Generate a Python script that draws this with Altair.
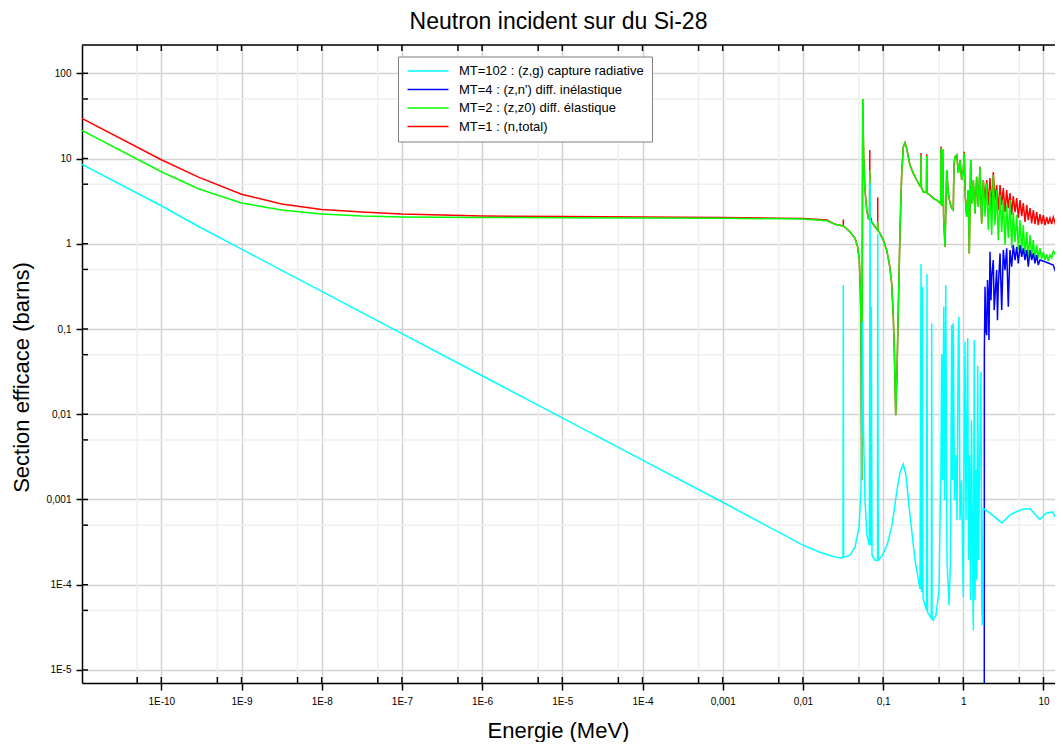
import altair as alt
import pandas as pd

# ---------------- data (log10 of energy in MeV, log10 of cross section in barns) ----------------
names = ["MT=102 : (z,g) capture radiative", "MT=4 : (z,n') diff. inélastique",
         "MT=2 : (z,z0) diff. élastique", "MT=1 : (n,total)"]
colors = ["#00FFFF", "#0000FF", "#00FF00", "#FF0000"]

x_major = [1e-10, 1e-9, 1e-8, 1e-7, 1e-6, 1e-5, 1e-4, 1e-3, 1e-2, 1e-1, 1.0, 10.0]
x_minor = [5e-11, 5e-10, 5e-9, 5e-8, 5e-7, 5e-6, 5e-5, 5e-4, 5e-3, 5e-2, 0.5, 5.0]
y_major = [1e-5, 1e-4, 1e-3, 1e-2, 1e-1, 1.0, 10.0, 100.0]
y_minor = [5e-5, 5e-4, 5e-3, 5e-2, 0.5, 5.0, 50.0]

total_low = [(-10.99, 1.472), (-10.0, 0.986), (-9.53, 0.779), (-9.0, 0.581), (-8.5, 0.466),
             (-8.0, 0.401), (-7.5, 0.372), (-7.0, 0.349), (-6.0, 0.325), (-5.0, 0.319),
             (-4.0, 0.313), (-3.0, 0.308), (-2.0, 0.296), (-1.7, 0.278)]
elastic_low = [(-10.99, 1.331), (-10.0, 0.845), (-9.53, 0.642), (-9.0, 0.478), (-8.5, 0.396),
               (-8.0, 0.349), (-7.5, 0.325), (-7.0, 0.313), (-6.0, 0.308), (-5.0, 0.305),
               (-4.0, 0.302), (-3.0, 0.300), (-2.0, 0.290), (-1.7, 0.270)]
resonances = [(-1.600, 0.228), (-1.496, 0.208), (-1.413, 0.141), (-1.350, 0.063), (-1.317, -0.035),
              (-1.297, -0.191), (-1.284, -0.543), (-1.276, -0.931), (-1.267, -2.774), (-1.254, 1.698),
              (-1.242, 1.021), (-1.226, 0.630), (-1.204, 0.396), (-1.185, 0.298), (-1.170, 0.285),
              (-1.166, 0.865), (-1.162, 0.280), (-1.142, 0.258), (-1.101, 0.200), (-1.070, 0.160),
              (-1.067, 0.258), (-1.064, 0.155), (-1.039, 0.122), (-0.998, 0.043), (-0.955, -0.074),
              (-0.923, -0.230), (-0.893, -0.465), (-0.873, -0.857), (-0.860, -1.248), (-0.843, -2.011),
              (-0.827, -1.518), (-0.810, -0.739), (-0.789, 0.161), (-0.768, 0.826), (-0.748, 1.138),
              (-0.727, 1.185), (-0.706, 1.120), (-0.686, 1.021), (-0.665, 0.924), (-0.623, 0.826),
              (-0.581, 0.748), (-0.540, 0.677), (-0.530, 0.670), (-0.527, 1.041), (-0.522, 0.660),
              (-0.499, 0.610), (-0.460, 0.600), (-0.456, 1.029), (-0.452, 0.595), (-0.415, 0.572),
              (-0.374, 0.533), (-0.332, 0.513), (-0.291, 0.481), (-0.281, 0.475), (-0.278, 1.120),
              (-0.272, 0.454), (-0.262, 0.450), (-0.257, 1.108), (-0.245, 0.300), (-0.228, -0.035),
              (-0.207, 0.865), (-0.187, 0.595), (-0.166, 0.478), (-0.145, 0.415), (-0.125, 0.396),
              (-0.116, 0.944), (-0.103, 1.021), (-0.082, 1.041), (-0.062, 0.830), (-0.041, 0.982),
              (-0.020, 0.748), (0.000, 0.865), (0.012, 1.061), (0.025, 0.552), (0.042, 0.317),
              (0.062, 0.630), (0.075, -0.113), (0.092, 0.982), (0.105, 0.474), (0.125, 0.748),
              (0.146, 0.357), (0.167, 0.786), (0.187, 0.434), (0.208, 0.904), (0.229, 0.239),
              (0.249, 0.748), (0.271, 0.317), (0.292, 0.709), (0.312, 0.161), (0.333, 0.630)]
elastic_high = [(0.354, 0.102), (0.374, 0.806), (0.395, 0.219), (0.416, 0.630), (0.436, 0.043),
                (0.458, 0.572), (0.479, 0.137), (0.499, 0.513), (0.520, -0.015), (0.541, 0.454),
                (0.561, 0.067), (0.582, 0.513), (0.603, -0.050), (0.623, 0.372), (0.645, 0.020),
                (0.666, 0.337), (0.686, -0.074), (0.707, 0.278), (0.728, -0.097), (0.748, 0.219),
                (0.769, -0.133), (0.791, 0.137), (0.810, -0.168), (0.832, 0.102), (0.853, -0.144),
                (0.873, 0.043), (0.894, -0.191), (0.915, -0.015), (0.935, -0.168), (0.956, -0.050),
                (0.977, -0.180), (0.998, -0.097), (1.019, -0.191), (1.040, -0.121), (1.060, -0.203),
                (1.081, -0.133), (1.102, -0.168), (1.122, -0.086), (1.144, -0.121), (1.165, -0.039),
                (1.185, -0.074), (1.206, -0.004), (1.231, 0.020)]
total_high = [(0.271, 0.513), (0.292, 0.748), (0.312, 0.454), (0.333, 0.771), (0.354, 0.393),
              (0.374, 0.841), (0.395, 0.513), (0.416, 0.689), (0.436, 0.393), (0.458, 0.689),
              (0.479, 0.454), (0.499, 0.654), (0.520, 0.372), (0.541, 0.630), (0.561, 0.419),
              (0.582, 0.595), (0.603, 0.337), (0.623, 0.560), (0.645, 0.372), (0.666, 0.536),
              (0.686, 0.302), (0.707, 0.513), (0.728, 0.325), (0.748, 0.478), (0.769, 0.255),
              (0.791, 0.454), (0.810, 0.278), (0.832, 0.419), (0.853, 0.243), (0.873, 0.396),
              (0.894, 0.231), (0.915, 0.372), (0.935, 0.219), (0.956, 0.349), (0.977, 0.231),
              (0.998, 0.337), (1.019, 0.219), (1.040, 0.313), (1.060, 0.231), (1.081, 0.302),
              (1.102, 0.231), (1.122, 0.313), (1.144, 0.243), (1.165, 0.302), (1.185, 0.243),
              (1.206, 0.313), (1.231, 0.266)]
# red tips of the total above the elastic peaks: (logE, low, high)
total_tips = [(-1.496, 0.208, 0.286), (-1.166, 0.865, 1.100), (-1.148, 0.258, 0.305),
              (-1.067, 0.258, 0.545), (-0.527, 1.041, 1.065), (-0.456, 1.029, 1.050),
              (-0.278, 1.120, 1.140), (0.012, 1.061, 1.080)]
inelastic = [(0.2615, -6.0), (0.2625, -1.283), (0.271, -0.505), (0.281, -1.013), (0.292, -1.072),
             (0.302, -0.426), (0.312, -0.622), (0.320, -1.130), (0.333, -0.094), (0.345, -0.661),
             (0.354, -0.387), (0.374, -0.191), (0.385, -0.778), (0.395, -0.622), (0.416, -0.309),
             (0.426, -0.896), (0.436, -0.505), (0.458, -0.113), (0.479, -0.778), (0.499, -0.074),
             (0.520, -0.309), (0.541, -0.054), (0.561, -0.739), (0.582, -0.074), (0.603, -0.270),
             (0.623, -0.015), (0.645, -0.191), (0.666, -0.035), (0.686, -0.230), (0.707, -0.015),
             (0.728, -0.153), (0.748, -0.054), (0.769, -0.191), (0.791, -0.074), (0.810, -0.270),
             (0.832, -0.074), (0.853, -0.191), (0.873, -0.113), (0.894, -0.230), (0.915, -0.133),
             (0.935, -0.250), (0.956, -0.191), (1.019, -0.211), (1.122, -0.250), (1.185, -0.426),
             (1.231, -0.614)]
capture = [(-10.99, 0.932), (-10.0, 0.446), (-9.53, 0.200), (-9.0, -0.063), (-8.0, -0.559),
           (-7.0, -1.054), (-6.0, -1.548), (-5.0, -2.043), (-4.0, -2.539), (-3.0, -3.032),
           (-2.0, -3.536), (-1.788, -3.619), (-1.600, -3.674), (-1.516, -3.685), (-1.500, -3.680),
           (-1.496, -0.485), (-1.492, -3.680), (-1.413, -3.654), (-1.350, -3.556), (-1.300, -3.322),
           (-1.276, -2.891), (-1.259, -1.835), (-1.254, -0.915), (-1.247, -2.069), (-1.226, -3.008),
           (-1.201, -3.419), (-1.172, -3.536), (-1.162, 0.709), (-1.155, -3.536), (-1.147, -0.739),
           (-1.138, -3.654), (-1.101, -3.712), (-1.070, -3.712), (-1.067, 0.114), (-1.060, -3.712),
           (-1.014, -3.665), (-0.951, -3.536), (-0.889, -3.302), (-0.827, -2.891), (-0.789, -2.680),
           (-0.748, -2.586), (-0.715, -2.715), (-0.665, -3.184), (-0.602, -3.712), (-0.540, -4.050),
           (-0.527, -0.238), (-0.521, -4.088), (-0.511, -0.505), (-0.502, -4.158), (-0.459, -4.299),
           (-0.453, -0.356), (-0.446, -4.323), (-0.399, -4.393), (-0.394, -0.934), (-0.389, -4.405),
           (-0.374, -4.418), (-0.341, -4.358), (-0.303, -4.064), (-0.278, -2.539), (-0.269, -1.295),
           (-0.259, -2.774), (-0.244, -0.739), (-0.234, -3.008), (-0.219, -0.485), (-0.203, -3.712),
           (-0.178, -4.240), (-0.160, -3.712), (-0.145, -0.954), (-0.135, -2.774), (-0.125, -0.931),
           (-0.110, -3.008), (-0.091, -2.480), (-0.079, -3.243), (-0.062, -1.072), (-0.054, -0.857),
           (-0.041, -3.243), (-0.022, -2.774), (0.000, -4.143), (0.009, -2.656), (0.021, -1.150),
           (0.034, -3.243), (0.055, -1.107), (0.065, -3.712), (0.077, -2.480), (0.090, -4.182),
           (0.102, -2.069), (0.115, -3.712), (0.125, -4.534), (0.137, -1.130), (0.146, -4.182),
           (0.158, -2.656), (0.168, -3.947), (0.180, -1.435), (0.190, -3.712), (0.202, -2.656),
           (0.221, -1.502), (0.229, -4.182), (0.237, -4.475), (0.246, -3.478), (0.249, -3.106),
           (0.333, -3.161), (0.479, -3.275), (0.595, -3.173), (0.728, -3.117), (0.832, -3.106),
           (0.894, -3.173), (0.956, -3.235), (1.031, -3.161), (1.110, -3.146), (1.156, -3.219),
           (1.206, -3.243), (1.231, -3.249)]

# ---------------- tables ----------------
def table(name, pts):
    return pd.DataFrame({"E": [10 ** a for a, b in pts], "S": [10 ** b for a, b in pts],
                         "series": name, "i": list(range(len(pts)))})

total = total_low + [p for p in resonances if p[0] <= 0.25] + total_high
elastic = elastic_low + resonances + elastic_high
df_tot = table(names[3], total)
df_el = table(names[2], elastic)
df_in = table(names[1], inelastic)
df_cap = table(names[0], capture)
df_tips = pd.DataFrame({"E": [10 ** a for a, lo, hi in total_tips],
                        "lo": [10 ** lo for a, lo, hi in total_tips],
                        "hi": [10 ** hi for a, lo, hi in total_tips]})

W, H = 973, 638
FONT = "Liberation Sans"
xscale = alt.Scale(type="log", domain=[10 ** -10.989, 10 ** 1.1434], nice=False)
yscale = alt.Scale(type="log", domain=[10 ** -5.153, 10 ** 2.332], nice=False)

label_expr = ("datum.value >= 1 ? format(datum.value, 'd') : "
              "(datum.value >= 0.0009 ? replace(format(datum.value, '.' + (-round(log(datum.value)/LN10)) + 'f'), '.', ',') : "
              "'1E' + round(log(datum.value)/LN10))")

common_axis = dict(grid=True, gridColor="#d2d2d2", gridWidth=1.5, tickColor="black", tickWidth=1.5,
                   domainColor="black", domainWidth=1.5, labelFont=FONT, labelFontSize=10,
                   labelColor="black", labelExpr=label_expr, titleFont=FONT, titleFontSize=22,
                   titleFontWeight="normal", titleColor="black", titleBaseline="middle",
                   titleAlign="center")
xaxis = alt.Axis(values=x_major, tickSize=7, labelPadding=6, titleX=476, titleY=47, **common_axis)
yaxis = alt.Axis(values=y_major, tickSize=6, labelPadding=5, titleX=-61, titleY=332, titleAngle=270,
                 **common_axis)


def X(f):
    return alt.X(f + ":Q", scale=xscale, axis=xaxis, title="Energie (MeV)")


def Y(f):
    return alt.Y(f + ":Q", scale=yscale, axis=yaxis, title="Section efficace (barns)")


legend = alt.Legend(orient="none", legendX=316, legendY=11.5, title=None, symbolType="M-1,0H7.2",
                    symbolSize=100, symbolStrokeWidth=1.5, labelFont=FONT, labelFontSize=13,
                    labelColor="black", padding=8, rowPadding=4.5, labelOffset=40, labelLimit=500,
                    fillColor="white", strokeColor="#808080")
color = alt.Color("series:N", scale=alt.Scale(domain=names, range=colors), legend=legend)


def line(df):
    return alt.Chart(df).mark_line(clip=True, strokeWidth=1.5).encode(
        x=X("E"), y=Y("S"), color=color, order="i:Q")


xt = pd.DataFrame({"v": x_major + x_minor})
yt = pd.DataFrame({"v": y_major + y_minor})

minor_x = alt.Chart(pd.DataFrame({"v": x_minor})).mark_rule(color="#efefef", strokeWidth=1.5).encode(x=X("v"))
minor_y = alt.Chart(pd.DataFrame({"v": y_minor})).mark_rule(color="#efefef", strokeWidth=1.5).encode(y=Y("v"))
tips = alt.Chart(df_tips).mark_rule(color="#FF0000", strokeWidth=1.5, clip=True).encode(
    x=X("E"), y=Y("lo"), y2=alt.Y2("hi:Q"))
tick_bottom = alt.Chart(xt).mark_rule(color="black", strokeWidth=1.5).encode(
    x=X("v"), y=alt.value(H - 6), y2=alt.value(H))
tick_top = alt.Chart(xt).mark_rule(color="black", strokeWidth=1.5).encode(
    x=X("v"), y=alt.value(0), y2=alt.value(6))
tick_left = alt.Chart(yt).mark_rule(color="black", strokeWidth=1.5).encode(
    y=Y("v"), x=alt.value(0), x2=alt.value(6))
top_border = alt.Chart(pd.DataFrame({"v": [0]})).mark_rule(color="black", strokeWidth=1.5).encode(
    x=alt.value(0), x2=alt.value(W), y=alt.value(0))

chart = alt.layer(
    minor_x, minor_y,
    line(df_tot), tips, line(df_el), line(df_in), line(df_cap),
    tick_bottom, tick_top, tick_left, top_border,
).properties(
    width=W, height=H,
    title=alt.TitleParams("Neutron incident sur du Si-28", font=FONT, fontSize=23, fontWeight="normal",
                          color="black", anchor="middle", dx=-10, offset=10),
    autosize=alt.AutoSizeParams(type="none"),
    padding={"left": 74, "top": 37, "right": 0, "bottom": 59},
).configure_view(stroke=None).configure(background="white")

chart.save("out.html", embed_options={"renderer": "svg", "actions": False})
